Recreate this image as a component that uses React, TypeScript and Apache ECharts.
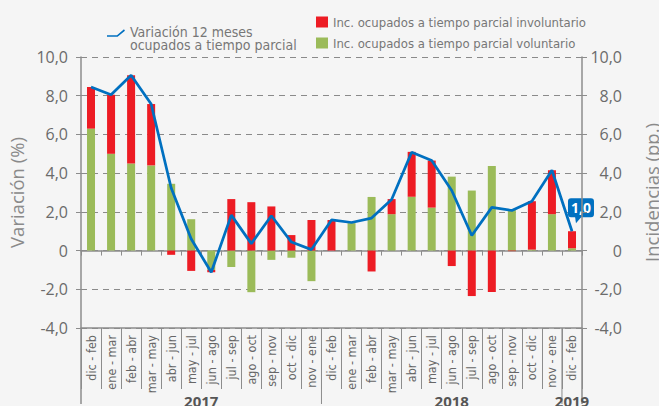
import React, { useEffect, useRef } from 'react';
import * as echarts from 'echarts';

const categories = [
  'dic - feb', 'ene - mar', 'feb - abr', 'mar - may', 'abr - jun', 'may - jul',
  'jun - ago', 'jul - sep', 'ago - oct', 'sep - nov', 'oct - dic', 'nov - ene',
  'dic - feb', 'ene - mar', 'feb - abr', 'mar - may', 'abr - jun', 'may - jul',
  'jun - ago', 'jul - sep', 'ago - oct', 'sep - nov', 'oct - dic', 'nov - ene',
  'dic - feb',
];

const voluntario = [
  6.3, 5.0, 4.5, 4.4, 3.45, 1.62, -1.0, -0.85, -2.15, -0.48, -0.37, -1.58,
  0, 1.42, 2.77, 1.88, 2.78, 2.22, 3.82, 3.1, 4.37, 2.1, 0.05, 1.88, 0.12,
];

const involuntario = [
  2.15, 3.05, 4.56, 3.17, -0.22, -1.05, -0.12, 2.66, 2.5, 2.28, 0.8, 1.58,
  1.58, 0, -1.08, 0.78, 2.32, 2.43, -0.8, -2.35, -2.14, -0.03, 2.5, 2.27, 0.88,
];

const variacion = [
  8.45, 8.05, 9.06, 7.57, 3.23, 0.6, -1.12, 1.83, 0.36, 1.8, 0.44, 0.05,
  1.58, 1.45, 1.68, 2.64, 5.08, 4.65, 3.1, 0.78, 2.23, 2.07, 2.55, 4.15, 1.0,
];

const yearLabels = ['2017', '2018', '2019'];
const yearFrom = [0, 12, 24];
const yearTo = [12, 25, 25];
const groupBoundaries = [0, 12, 24, 25];

const lineName = 'Variación 12 meses\nocupados a tiempo parcial';
const redName = 'Inc. ocupados a tiempo parcial involuntario';
const greenName = 'Inc. ocupados a tiempo parcial voluntario';

const NARROW = "'Liberation Sans Narrow', 'DejaVu Sans Condensed', sans-serif";
const SANS = "'Open Sans', 'Noto Sans', sans-serif";
const AXIS = '#8c8c8c';
const BLUE = '#0070C0';

const fmt = (v: number) => (v === 0 ? '0' : v.toFixed(1).replace('.', ','));

export default function App() {
  const ref = useRef<HTMLDivElement>(null);
  useEffect(() => {
    const chart = echarts.init(ref.current!, null, { renderer: 'svg' });
    const yAxisBase = {
      type: 'value',
      min: -4,
      max: 10,
      interval: 2,
      axisLine: { show: true, lineStyle: { color: AXIS, width: 1.5 } },
      axisTick: { show: true, length: 5, lineStyle: { color: AXIS, width: 1 } },
      axisLabel: { formatter: fmt, color: '#6b6b6b', fontSize: 16, fontFamily: SANS },
      nameLocation: 'middle',
      nameTextStyle: { color: '#8a8a8a', fontSize: 18.5, fontFamily: SANS },
    };
    chart.setOption({
      animation: false,
      backgroundColor: '#f5f5f5',
      grid: {
        left: 81,
        right: 77,
        top: 57,
        bottom: 78,
        containLabel: false,
        outerBoundsMode: 'none',
      },
      legend: [
        {
          data: [lineName],
          left: 107,
          top: 25,
          padding: 0,
          orient: 'vertical',
          itemWidth: 18,
          itemHeight: 18,
          icon: 'path://M0,6 L10,6 L17,0 L18,1.6 L10.6,7.6 L0,7.6 Z M0,18 L0.02,18 L0,18.02 Z',
          textStyle: { color: '#777', fontSize: 14, lineHeight: 12.5, fontFamily: NARROW },
        },
        {
          data: [redName, greenName],
          left: 316,
          top: 14,
          padding: 0,
          orient: 'vertical',
          itemWidth: 12,
          itemHeight: 11,
          itemGap: 5,
          icon: 'rect',
          textStyle: { color: '#777', fontSize: 13, lineHeight: 16, fontFamily: NARROW },
        },
      ],
      xAxis: [
        {
          type: 'category',
          data: categories,
          position: 'bottom',
          axisLine: { onZero: false, lineStyle: { color: AXIS, width: 1.5 } },
          axisTick: { show: true, interval: 0, length: 61, lineStyle: { color: AXIS, width: 1 } },
          axisLabel: {
            interval: 0,
            rotate: 90,
            margin: 7,
            color: '#666',
            fontSize: 12.5,
            fontFamily: NARROW,
          },
          splitLine: { show: false },
        },
        {
          type: 'category',
          data: categories,
          position: 'top',
          axisLine: { onZero: true, lineStyle: { color: AXIS, width: 1.5 } },
          axisTick: { show: true, inside: true, interval: 0, length: 5, lineStyle: { color: AXIS, width: 1 } },
          axisLabel: { show: false },
          splitLine: { show: false },
        },
      ],
      yAxis: [
        {
          ...yAxisBase,
          position: 'left',
          name: 'Variación (%)',
          nameGap: 50,
          axisLabel: { ...yAxisBase.axisLabel, margin: 13 },
          splitLine: { show: true, lineStyle: { color: '#8a8a8a', type: [6, 5], width: 1 } },
        },
        {
          ...yAxisBase,
          position: 'right',
          name: 'Incidencias (pp.)',
          nameGap: 60,
          axisLabel: { ...yAxisBase.axisLabel, margin: 40, align: 'right' },
          splitLine: { show: false },
        },
      ],
      series: [
        {
          name: greenName,
          type: 'bar',
          stack: 'inc',
          barWidth: 8,
          itemStyle: { color: '#9BBB59' },
          data: voluntario,
        },
        {
          name: redName,
          type: 'bar',
          stack: 'inc',
          barWidth: 8,
          itemStyle: { color: '#ED1C24' },
          data: involuntario,
        },
        {
          name: lineName,
          type: 'line',
          symbol: 'none',
          z: 5,
          lineStyle: { color: BLUE, width: 2.75 },
          itemStyle: { color: BLUE },
          data: variacion,
        },
      ],
    });

    const c0 = chart.convertToPixel({ xAxisIndex: 0 }, 0) as number;
    const c1 = chart.convertToPixel({ xAxisIndex: 0 }, 1) as number;
    const band = c1 - c0;
    const boundary = (i: number) => c0 + (i - 0.5) * band;
    const yBottom = chart.convertToPixel({ yAxisIndex: 0 }, -4) as number;

    const graphics: any[] = [];
    groupBoundaries.forEach((b, k) => {
      graphics.push({
        type: 'line',
        shape: { x1: boundary(b), y1: yBottom, x2: boundary(b), y2: yBottom + 76 },
        style: { stroke: AXIS, lineWidth: k === 0 || k === groupBoundaries.length - 1 ? 1.5 : 1 },
        silent: true,
      });
    });
    yearLabels.forEach((label, k) => {
      graphics.push({
        type: 'text',
        x: (boundary(yearFrom[k]) + boundary(yearTo[k])) / 2,
        y: yBottom + 73,
        style: {
          text: label,
          fill: '#555',
          font: `bold 15px ${SANS}`,
          align: 'center',
          verticalAlign: 'middle',
        },
        silent: true,
      });
    });

    // callout label for the last value of the line
    const last = variacion.length - 1;
    const p = chart.convertToPixel({ seriesIndex: 2 }, [last, variacion[last]]) as number[];
    const px = p[0];
    const py = p[1];
    graphics.push({
      type: 'group',
      z: 100,
      silent: true,
      children: [
        {
          type: 'polygon',
          shape: { points: [[px + 3, py - 15], [px + 10, py - 15], [px + 4, py - 8]] },
          style: { fill: BLUE },
        },
        {
          type: 'rect',
          shape: { x: px - 4, y: py - 33, width: 26, height: 19, r: 3 },
          style: { fill: BLUE },
        },
        {
          type: 'text',
          x: px + 9,
          y: py - 23.5,
          style: {
            text: fmt(variacion[last]),
            fill: '#fff',
            font: `bold 14px ${SANS}`,
            align: 'center',
            verticalAlign: 'middle',
          },
        },
      ],
    });
    chart.setOption({ graphic: graphics });

    return () => chart.dispose();
  }, []);
  return (
    <div
      ref={ref}
      style={{ position: 'fixed', left: 0, top: 0, width: 659, height: 406, background: '#f5f5f5' }}
    />
  );
}
